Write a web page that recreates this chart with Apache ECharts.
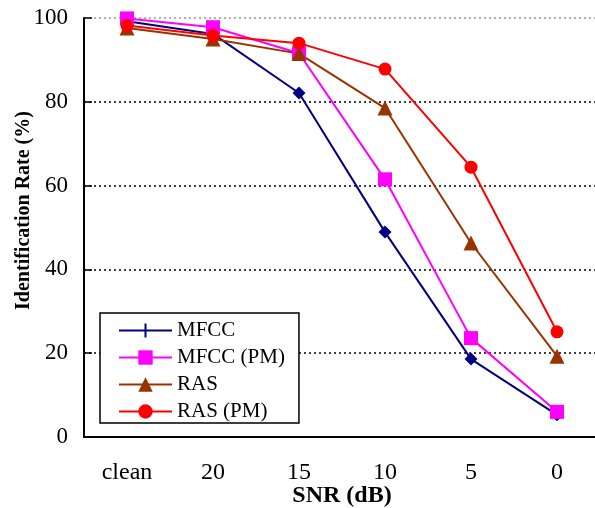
<!DOCTYPE html>
<html lang="en">
<head>
    <meta charset="UTF-8">
    <title>Identification Rate</title>
    <script src="https://cdn.jsdelivr.net/npm/echarts@6/dist/echarts.min.js"></script>
    <style>
        body { margin: 0; background: #fff; }
    </style>
</head>
<body>
    <div id="main" style="width: 595px;height:508px;"></div>
    <script type="text/javascript">
        var snrLabels = ['clean', '20', '15', '10', '5', '0'];
        var mfcc   = [99.2, 96.2, 82.1, 48.9, 18.6, 5.3];
        var mfccPm = [99.9, 97.8, 91.6, 61.5, 23.6, 6.0];
        var ras    = [97.6, 95.0, 91.5, 78.5, 46.3, 19.3];
        var rasPm  = [98.2, 95.8, 94.0, 87.8, 64.4, 25.1];

        var font = 'Liberation Serif, Times New Roman, serif';
        // legend icon for MFCC: line with a small vertical tick (a "+")
        var plusIcon = 'path://M0,6 L53,6 L53,8 L0,8 Z M25.5,0 L27.5,0 L27.5,14 L25.5,14 Z';

        var myChart = echarts.init(document.getElementById('main'));
        var option = {
            animation: false,
            backgroundColor: '#fff',
            grid: {
                left: 84,
                right: -5,
                top: 18,
                bottom: 71,
                containLabel: false,
                outerBoundsMode: 'none'
            },
            legend: {
                orient: 'vertical',
                left: 100,
                top: 313,
                padding: [7, 14, 1, 18],
                itemGap: 6,
                itemWidth: 53,
                itemHeight: 18,
                backgroundColor: '#fff',
                borderColor: '#000',
                borderWidth: 1.5,
                textStyle: { fontFamily: font, fontSize: 21, color: '#000' },
                data: [
                    { name: 'MFCC', icon: plusIcon },
                    { name: 'MFCC (PM)' },
                    { name: 'RAS' },
                    { name: 'RAS (PM)' }
                ]
            },
            xAxis: {
                type: 'category',
                data: snrLabels,
                name: 'SNR (dB)',
                nameLocation: 'middle',
                nameGap: 47,
                nameMoveOverlap: false,
                nameTextStyle: { fontFamily: font, fontSize: 24, fontWeight: 'bold', color: '#000' },
                axisLine: { lineStyle: { color: '#000', width: 2 } },
                axisTick: { inside: true, length: 8, lineStyle: { color: '#000', width: 1.5 } },
                axisLabel: { margin: 24, fontFamily: font, fontSize: 24, color: '#000' }
            },
            yAxis: {
                type: 'value',
                min: 0,
                max: 100,
                interval: 20,
                name: 'Identification Rate (%)',
                nameLocation: 'middle',
                nameGap: 50,
                nameMoveOverlap: false,
                nameTextStyle: {
                    fontFamily: font, fontSize: 20, fontWeight: 'bold', color: '#000',
                    padding: [0, 0, 0, 34]
                },
                axisLine: { show: true, lineStyle: { color: '#000', width: 2 } },
                axisTick: { show: true, inside: true, length: 8, lineStyle: { color: '#000', width: 1.5 } },
                axisLabel: { margin: 16, fontFamily: font, fontSize: 23, color: '#000' },
                splitLine: {
                    show: true,
                    lineStyle: {
                        type: [2, 3],
                        width: 1.5,
                        color: ['#000', '#000', '#000', '#000', '#000', '#999']
                    }
                }
            },
            series: [
                {
                    name: 'MFCC',
                    type: 'line',
                    data: mfcc,
                    symbol: 'diamond',
                    symbolSize: 13,
                    color: '#000080',
                    lineStyle: { width: 2 }
                },
                {
                    name: 'MFCC (PM)',
                    type: 'line',
                    data: mfccPm,
                    symbol: 'rect',
                    symbolSize: 14,
                    color: '#ff00ff',
                    lineStyle: { width: 2 }
                },
                {
                    name: 'RAS',
                    type: 'line',
                    data: ras,
                    symbol: 'triangle',
                    symbolSize: 15,
                    color: '#993300',
                    lineStyle: { width: 2 }
                },
                {
                    name: 'RAS (PM)',
                    type: 'line',
                    data: rasPm,
                    symbol: 'circle',
                    symbolSize: 13,
                    color: '#ff0000',
                    lineStyle: { width: 2 }
                }
            ]
        };
        myChart.setOption(option);
    </script>
</body>
</html>
